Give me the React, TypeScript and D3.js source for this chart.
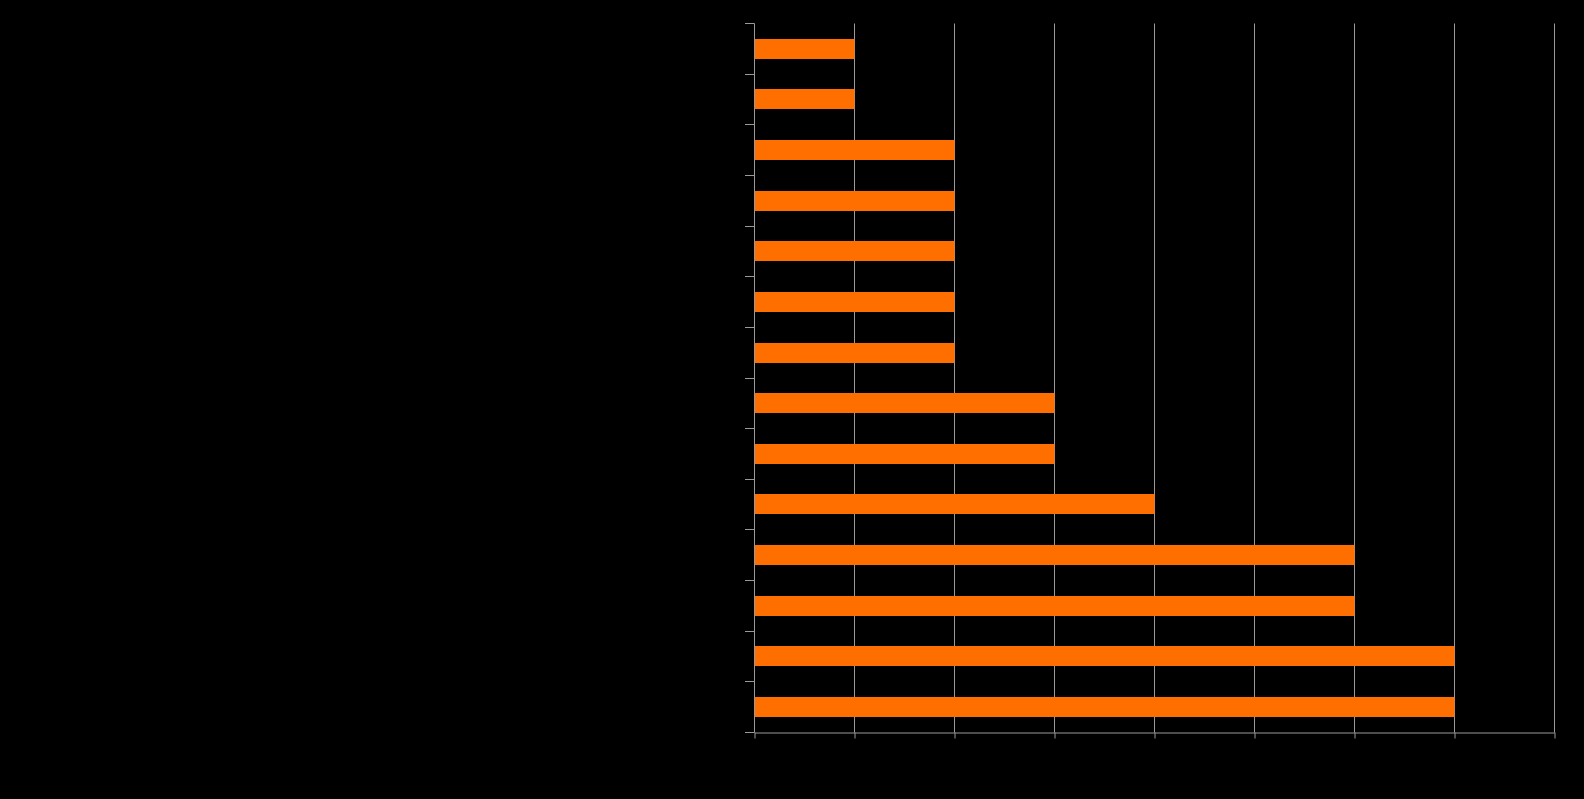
import React, { useEffect, useRef } from "react";
import * as d3 from "d3";

const categories = ["A", "B", "C", "D", "E", "F", "G", "H", "I", "J", "K", "L", "M", "N"];
const values = [1, 1, 2, 2, 2, 2, 2, 3, 3, 4, 6, 6, 7, 7];
const xTicks = [0, 1, 2, 3, 4, 5, 6, 7, 8];

const W = 1584;
const H = 799;
const margin = { left: 754.5, right: 29.5, top: 23.5, bottom: 66.5 };

export default function App() {
  const ref = useRef<SVGSVGElement>(null);
  useEffect(() => {
    document.body.style.margin = "0";
    document.body.style.background = "#000";
    const svg = d3.select(ref.current);
    svg.selectAll("*").remove();
    const x = d3.scaleLinear().domain([0, 8]).range([margin.left, W - margin.right]);
    const y0 = margin.top;
    const y1 = H - margin.bottom;
    const y = d3.scaleBand<string>().domain(categories).range([y0, y1]).padding(0);
    const step = y.step();

    // grid
    svg
      .append("g")
      .selectAll("line")
      .data(xTicks.slice(1))
      .join("line")
      .attr("x1", (d) => x(d))
      .attr("x2", (d) => x(d))
      .attr("y1", y0)
      .attr("y2", y1)
      .attr("stroke", "#9a9a9a")
      .attr("stroke-width", 1);

    // bars
    svg
      .append("g")
      .selectAll("rect")
      .data(values)
      .join("rect")
      .attr("x", Math.round(x(0)))
      .attr("y", (_, i) => Math.round(y(categories[i])! + step * 0.3))
      .attr("width", (d) => x(d) - Math.round(x(0)))
      .attr("height", Math.round(step * 0.395))
      .attr("fill", "#ff6f00");

    // y axis ticks at band boundaries
    const bounds = categories.map((c) => y(c)!).concat([y1]);
    svg
      .append("g")
      .selectAll("line")
      .data(bounds)
      .join("line")
      .attr("x1", x(0) - 9.5)
      .attr("x2", x(0))
      .attr("y1", (d) => Math.round(d - 0.5) + 0.5)
      .attr("y2", (d) => Math.round(d - 0.5) + 0.5)
      .attr("stroke", "#9a9a9a");
    svg
      .append("line")
      .attr("x1", x(0))
      .attr("x2", x(0))
      .attr("y1", y0)
      .attr("y2", y1)
      .attr("stroke", "#9a9a9a");

    // x axis
    const xAxis = d3
      .axisBottom(x)
      .tickValues(xTicks)
      .tickSize(6)
      .tickSizeOuter(0)
      .tickFormat(d3.format("d"));
    const gx = svg.append("g").attr("transform", `translate(0,${y1})`).call(xAxis);
    gx.selectAll("line").attr("stroke", "#9a9a9a");
    gx.select(".domain").attr("stroke", "#9a9a9a");
    gx.selectAll("text").attr("fill", "#000").attr("font-family", "Liberation Sans").attr("font-size", 12);
  }, []);
  return <svg ref={ref} width={W} height={H} style={{ display: "block", background: "#000" }} />;
}
